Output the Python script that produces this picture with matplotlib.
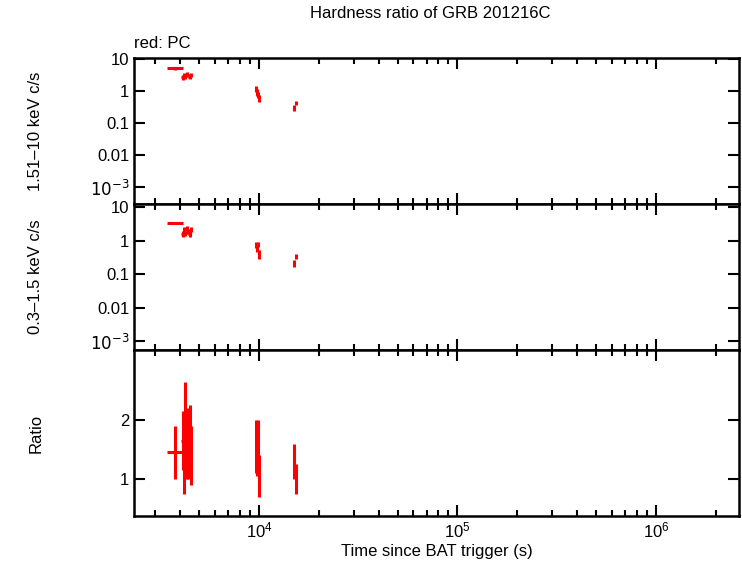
import numpy as np
import matplotlib
matplotlib.use("Agg")
import matplotlib.pyplot as plt

plt.rcParams["font.family"] = "Liberation Sans"

# PC mode data
time = [3780, 4120, 4190, 4260, 4330, 4400, 4470, 4560, 9650, 9750, 9850, 9950, 15000, 15300]
time_lo = [330, 60, 60, 60, 60, 60, 60, 60, 60, 60, 60, 60, 120, 120]
time_hi = [380, 60, 60, 60, 60, 60, 60, 60, 60, 60, 60, 60, 120, 120]
hard = [5.0, 2.6, 3.2, 2.8, 3.4, 3.0, 2.7, 3.1, 1.2, 0.9, 0.75, 0.6, 0.3, 0.42]
hard_err = [0.4, 0.4, 0.5, 0.4, 0.5, 0.4, 0.4, 0.5, 0.25, 0.2, 0.15, 0.15, 0.06, 0.07]
soft = [3.4, 1.6, 2.2, 1.7, 2.3, 1.9, 1.6, 2.2, 0.75, 0.6, 0.8, 0.4, 0.22, 0.35]
soft_err = [0.3, 0.3, 0.4, 0.3, 0.4, 0.3, 0.3, 0.4, 0.15, 0.15, 0.15, 0.12, 0.05, 0.06]
ratio = [1.45, 1.65, 1.2, 2.0, 1.6, 1.5, 1.8, 1.4, 1.55, 1.5, 1.55, 1.05, 1.3, 1.0]
ratio_err = [0.45, 0.5, 0.45, 0.65, 0.6, 0.5, 0.45, 0.5, 0.45, 0.45, 0.45, 0.35, 0.3, 0.25]

fig = plt.figure(figsize=(7.42, 5.66), dpi=100)
L, R = 134 / 742, 739 / 742
ax1 = fig.add_axes([L, 1 - 204 / 566, R - L, 146 / 566])
ax2 = fig.add_axes([L, 1 - 350 / 566, R - L, 146 / 566])
ax3 = fig.add_axes([L, 1 - 516 / 566, R - L, 166 / 566])

xerr = [time_lo, time_hi]
kw = dict(fmt="none", ecolor="red", elinewidth=2.2, capsize=0)
ax1.errorbar(time, hard, xerr=xerr, yerr=hard_err, **kw)
ax2.errorbar(time, soft, xerr=xerr, yerr=soft_err, **kw)
ax3.errorbar(time, ratio, xerr=xerr, yerr=ratio_err, **kw)

for ax in (ax1, ax2, ax3):
    ax.set_xscale("log")
    ax.set_xlim(2345, 2.62e6)
    ax.tick_params(which="both", direction="in", top=True, right=True, labelsize=12)
    ax.tick_params(which="major", length=8, width=1.5)
    ax.tick_params(which="minor", length=4, width=1.5)
    for s in ax.spines.values():
        s.set_linewidth(1.8)

for ax in (ax1, ax2):
    ax.set_yscale("log")
    ax.set_yticks([10, 1, 0.1, 0.01, 1e-3])
    ax.set_yticklabels(["10", "1", "0.1", "0.01", r"$10^{-3}$"])
    ax.tick_params(labelbottom=False)
ax1.set_ylim(3e-4, 10.5)
ax2.set_ylim(5.5e-4, 12.5)
ax3.set_ylim(0.37, 3.19)
ax3.set_yticks([1, 2])

ax1.set_ylabel("1.51\u201310 keV c/s", fontsize=12)
ax2.set_ylabel("0.3\u20131.5 keV c/s", fontsize=12)
ax3.set_ylabel("Ratio", fontsize=12)
ax3.set_xlabel("Time since BAT trigger (s)", fontsize=12, labelpad=2)
for ax in (ax1, ax2, ax3):
    ax.yaxis.set_label_coords(-0.15, 0.5)

fig.text(0.58, 1 - 18 / 566, "Hardness ratio of GRB 201216C", ha="center", fontsize=12)
fig.text(L, 1 - 43 / 566, "red: PC", ha="left", va="center", fontsize=12)

fig.savefig("out.png", dpi=100)
